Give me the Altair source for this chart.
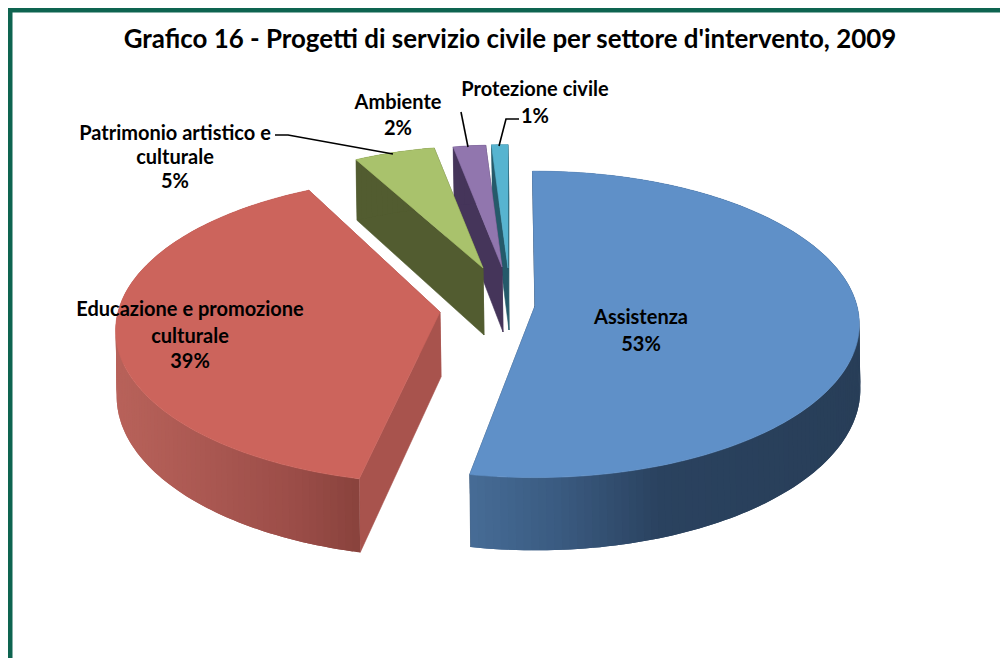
import math
import altair as alt
import pandas as pd

TITLE = "Grafico 16 - Progetti di servizio civile per settore d'intervento, 2009"
categories = ["Assistenza", "Educazione e promozione culturale", "Patrimonio artistico e culturale", "Ambiente", "Protezione civile"]
values = [53, 39, 5, 2, 1]
top_colors = ["#5f90c8", "#cc645c", "#a9c26c", "#9176ae", "#57b4d0"]
cut_colors = ["#2c4765", "#a8534d", "#525c30", "#45355a", "#255a6a"]
# wall colour stops (page x, colour)
wall_stops = [
    [(470, (70, 108, 150)), (560, (58, 90, 128)), (660, (42, 66, 95)), (860, (40, 62, 88))],
    [(116, (184, 98, 90)), (220, (168, 86, 80)), (300, (154, 76, 71)), (362, (136, 66, 60))],
    [(0, (82, 92, 48)), (1000, (82, 92, 48))],
    [(0, (69, 53, 90)), (1000, (69, 53, 90))],
    [(0, (37, 90, 106)), (1000, (37, 90, 106))],
]
# exploded layout of each slice: apex x, apex y, scale, rotation in degrees, depth
apex_x = [535, 440, 483, 502, 508]
apex_y = [306, 312, 268, 267, 268]
slice_scale = [1.0, 1.0, 0.905, 0.905, 0.915]
slice_rot = [-0.5, 2.0, 0.0, 0.0, 0.0]
slice_depth = [64.0, 65.0, 67.0, 65.0, 62.0]

label_text = ["Assistenza", "53%", "Educazione e promozione", "culturale", "39%",
              "Patrimonio artistico e", "culturale", "5%", "Ambiente", "2%", "Protezione civile", "1%"]
label_x = [641, 641, 190, 190, 190, 175, 175, 175, 398, 398, 535, 535]
label_y = [318, 345, 310, 337, 362, 134, 158, 182, 103, 129, 90, 117]

leaders = [
    [(275, 135), (288, 135), (393, 154)],
    [(461, 112), (468, 147)],
    [(519, 119), (506, 119), (499, 146)],
]

A, B, K = 322.0, 151.0, 0.12
OX, OY = 8, 8
FRAME_COLOR = "#0e6450"
CHART_W, CHART_H = 992, 650


def project(theta, i):
    u, v = math.sin(theta), math.cos(theta)
    w = 1 + K * v
    s = slice_scale[i]
    return (apex_x[i] + s * A * u / w, apex_y[i] - s * B * v / w, w)


def drop(pt, i, w=1.0):
    return (pt[0] + 1, pt[1] + slice_depth[i] / w)


def wall_color(i, x):
    stops = wall_stops[i]
    if x <= stops[0][0]:
        c = stops[0][1]
    elif x >= stops[-1][0]:
        c = stops[-1][1]
    else:
        for (x0, c0), (x1, c1) in zip(stops, stops[1:]):
            if x0 <= x <= x1:
                t = (x - x0) / (x1 - x0)
                c = tuple(a + (b - a) * t for a, b in zip(c0, c1))
                break
    return "#%02x%02x%02x" % tuple(int(round(a)) for a in c)


def poly(points, fill, sw=0.6):
    ring = [[p[0], p[1]] for p in points]
    ring.append(ring[0])
    return {"type": "Feature", "properties": {"fill": fill, "sw": sw},
            "geometry": {"type": "Polygon", "coordinates": [ring]}}


features = [
    poly([(8, 8), (1012, 8), (1012, 12.5), (8, 12.5)], FRAME_COLOR, 0),
    poly([(8, 8), (12.5, 8), (12.5, 672), (8, 672)], FRAME_COLOR, 0),
]

total = sum(values)
starts = []
acc = 0.0
for v in values:
    starts.append(acc)
    acc += v
for i in [4, 3, 2, 1, 0]:
    rot = math.radians(slice_rot[i])
    a0 = starts[i] / total * 2 * math.pi + rot
    a1 = (starts[i] + values[i]) / total * 2 * math.pi + rot
    apex = (apex_x[i], apex_y[i])
    n = max(4, int(values[i] * 3))
    angles = [a0 + (a1 - a0) * k / n for k in range(n + 1)]
    pts = [project(a, i) for a in angles]
    end_a, end_b = pts[0], pts[-1]
    apex_low = drop(apex, i)
    # cut faces behind the wall
    features.append(poly([apex, end_b[:2], drop(end_b, i, end_b[2]), apex_low], cut_colors[i]))
    features.append(poly([apex, end_a[:2], drop(end_a, i, end_a[2]), apex_low], cut_colors[i]))
    # outer wall as overlapping strips, each running under the next, shaded along x
    for k in range(n):
        run = pts[k:k + 3]
        col = wall_color(i, (pts[k][0] + pts[k + 1][0]) / 2)
        ring = [p[:2] for p in run] + [drop(p, i, p[2]) for p in reversed(run)]
        features.append(poly(ring, col, 0))
    # top surface
    features.append(poly([apex] + [p[:2] for p in pts], top_colors[i]))

line_features = [
    {"type": "Feature", "properties": {},
     "geometry": {"type": "LineString", "coordinates": [list(p) for p in line]}}
    for line in leaders
]

proj = dict(type="identity", scale=1, translate=[-OX, -OY])

shapes = alt.Chart(alt.InlineData(values={"type": "FeatureCollection", "features": features},
                                  format=alt.DataFormat(property="features", type="json"))).mark_geoshape().encode(
    fill=alt.Fill("properties.fill:N", scale=None),
    stroke=alt.Stroke("properties.fill:N", scale=None),
    strokeWidth=alt.StrokeWidth("properties.sw:Q", scale=None),
).project(**proj)

lines = alt.Chart(alt.InlineData(values={"type": "FeatureCollection", "features": line_features},
                                 format=alt.DataFormat(property="features", type="json"))).mark_geoshape(
    filled=False, stroke="#000000", strokeWidth=1.6).project(**proj)

labels_df = pd.DataFrame({"t": label_text, "x": [a - OX for a in label_x], "y": [b - OY for b in label_y]})
labels = alt.Chart(labels_df).mark_text(font="Lato", fontWeight="bold", fontSize=20,
                                        color="#000000", align="center", baseline="middle").encode(
    x=alt.X("x:Q", scale=None, axis=None),
    y=alt.Y("y:Q", scale=None, axis=None),
    text="t:N",
)

title_df = pd.DataFrame({"t": [TITLE], "x": [510 - OX], "y": [40 - OY]})
title = alt.Chart(title_df).mark_text(font="Lato", fontWeight="bold", fontSize=25.9,
                                      color="#000000", align="center", baseline="middle").encode(
    x=alt.X("x:Q", scale=None, axis=None),
    y=alt.Y("y:Q", scale=None, axis=None),
    text="t:N",
)

chart = alt.layer(shapes, lines, labels, title).properties(
    width=CHART_W, height=CHART_H, padding=0,
    autosize=alt.AutoSizeParams(type="none"),
    background="white",
).configure_view(stroke=None)

chart.save("out.html", embed_options={"renderer": "svg", "actions": False})
